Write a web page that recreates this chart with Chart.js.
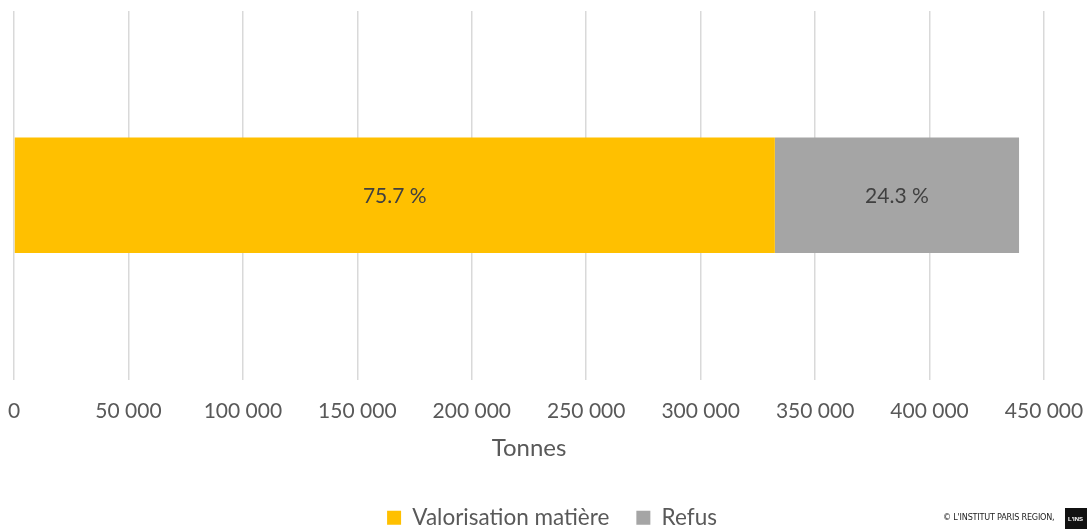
<!DOCTYPE html>
<html>
<head>
<meta charset="utf-8">
<script src="https://cdn.jsdelivr.net/npm/chart.js@4"></script>
<style>
  html, body { margin: 0; padding: 0; background: #fff; }
  #wrap { position: relative; width: 1087px; height: 529px; overflow: hidden; }
  #credit {
    position: absolute; left: 943px; top: 512px;
    font-family: "Liberation Sans Narrow", "DejaVu Sans Condensed", sans-serif;
    font-size: 9px; color: #222; letter-spacing: -0.2px;
  }
  #logo {
    position: absolute; left: 1065px; top: 508px; width: 22px; height: 21px;
    background: #111; color: #fff; font: bold 6px "Liberation Sans", sans-serif;
    padding: 8px 0 0 3px; box-sizing: border-box; overflow: hidden;
  }
</style>
</head>
<body>
<div id="wrap">
  <canvas id="chart" width="1087" height="529"></canvas>
  <div id="credit">© L'INSTITUT PARIS REGION,</div>
  <div id="logo">L'INS</div>
</div>
<script>
const categories = [""];
const seriesNames = ["Valorisation matière", "Refus"];
const valorisation = [332400];
const refus = [106700];
const shares = [["75.7 %"], ["24.3 %"]];
const tickValues = [0, 50000, 100000, 150000, 200000, 250000, 300000, 350000, 400000, 450000];

const FONT = "Lato, 'Open Sans', sans-serif";

const barLabels = {
  id: "barLabels",
  afterDatasetsDraw(chart) {
    const ctx = chart.ctx;
    ctx.save();
    ctx.font = "21px " + FONT;
    ctx.fillStyle = "#404040";
    ctx.textAlign = "center";
    ctx.textBaseline = "middle";
    chart.data.datasets.forEach((ds, i) => {
      chart.getDatasetMeta(i).data.forEach((bar, j) => {
        const p = bar.getProps(["x", "y", "base"], true);
        ctx.fillText(shares[i][j], (p.x + p.base) / 2, p.y + 1);
      });
    });
    ctx.restore();
  }
};

// legend sits a little right of the plot centre in the original
const legendShift = {
  id: "legendShift",
  afterLayout(chart) {
    chart.legend.left += 23;
    chart.legend.right += 23;
  }
};

new Chart(document.getElementById("chart").getContext("2d"), {
  type: "bar",
  data: {
    labels: categories,
    datasets: [
      { label: seriesNames[0], data: valorisation, backgroundColor: "#FFC000" },
      { label: seriesNames[1], data: refus, backgroundColor: "#A5A5A5" }
    ]
  },
  options: {
    indexAxis: "y",
    responsive: false,
    animation: false,
    layout: { padding: { left: 14, right: 43, top: 11, bottom: -10 } },
    datasets: { bar: { barPercentage: 0.3134, categoryPercentage: 1 } },
    scales: {
      x: {
        stacked: true,
        min: 0,
        max: 450000,
        afterBuildTicks(axis) { axis.ticks = tickValues.map(v => ({ value: v })); },
        afterFit(axis) { axis.paddingLeft = 0; axis.paddingRight = 0; },
        grid: { color: "#D9D9D9", lineWidth: 1.5, drawTicks: false },
        border: { display: false },
        ticks: {
          padding: 19,
          color: "#595959",
          font: { family: FONT, size: 21 },
          maxRotation: 0,
          callback: v => v.toLocaleString("fr-FR").replace(/\s/g, " ")
        },
        title: {
          display: true,
          text: "Tonnes",
          color: "#595959",
          font: { family: FONT, size: 24 },
          padding: { top: -9, bottom: 17 }
        }
      },
      y: { stacked: true, display: false }
    },
    plugins: {
      legend: {
        position: "bottom",
        labels: {
          color: "#595959",
          font: { family: FONT, size: 22.5 },
          boxWidth: 14,
          boxHeight: 14,
          padding: 27
        }
      },
      tooltip: { enabled: false }
    }
  },
  plugins: [barLabels, legendShift]
});
</script>
</body>
</html>
